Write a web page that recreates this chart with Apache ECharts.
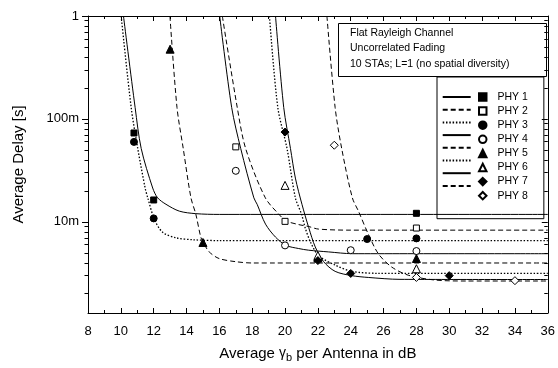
<!DOCTYPE html>
<html>
<head>
<meta charset="utf-8">
<script src="https://cdn.jsdelivr.net/npm/echarts@6/dist/echarts.min.js"></script>
<style>
    html, body { margin: 0; padding: 0; background: #fff; }
    #main { width: 558px; height: 368px; }
</style>
</head>
<body>
<div id="main"></div>
<script>
// fitted curves: [gamma_b in dB, delay in s]
var phy1Curve = [[10.16, 1], [10.87, 0.129], [11.24, 0.0516], [11.94, 0.0213], [12.24, 0.0171], [12.75, 0.0148], [13.56, 0.0127], [14.57, 0.0120], [16, 0.0118], [36, 0.0118]];
var phy2Curve = [[16.18, 1], [17.09, 0.129], [17.6, 0.0516], [18.8, 0.0171], [19.72, 0.0114], [20.06, 0.0102], [20.83, 0.0094], [21.44, 0.0090], [22.03, 0.0085], [24, 0.0083], [36, 0.0083]];
var phy3Curve = [[10.02, 1], [10.63, 0.129], [11.03, 0.0516], [11.48, 0.0213], [11.64, 0.0171], [12.04, 0.0106], [12.55, 0.0079], [13.36, 0.0070], [14.36, 0.0067], [16, 0.00657], [36, 0.00657]];
var phy4Curve = [[16.02, 1], [16.75, 0.129], [17.3, 0.0516], [18.1, 0.0171], [18.3, 0.0148], [18.81, 0.0095], [19.42, 0.0071], [20.06, 0.0059], [20.83, 0.0055], [21.44, 0.0053], [22.65, 0.0051], [24.1, 0.0049], [36, 0.0049]];
var phy5Curve = [[12.99, 1], [13.42, 0.129], [13.8, 0.0516], [14.27, 0.0171], [14.57, 0.0118], [14.87, 0.0071], [15.07, 0.0061], [15.38, 0.0051], [15.98, 0.0044], [16.99, 0.0041], [18, 0.00398], [36, 0.00398]];
var phy6Curve = [[19.05, 1], [19.56, 0.129], [20.12, 0.0516], [20.63, 0.0171], [21.01, 0.0118], [21.22, 0.0088], [21.56, 0.0063], [22.04, 0.0047], [23.05, 0.0038], [24.06, 0.0033], [25.68, 0.00316], [36, 0.00315]];
var phy7Curve = [[19.42, 1], [19.92, 0.129], [20.33, 0.0516], [20.63, 0.0266], [21.03, 0.0148], [21.44, 0.0088], [21.84, 0.0057], [22.35, 0.0041], [23.05, 0.0033], [24.06, 0.0030], [25.07, 0.00288], [27, 0.00276], [36, 0.00275]];
var phy8Curve = [[22.55, 1], [23.05, 0.129], [23.45, 0.0516], [24.1, 0.0171], [24.47, 0.0127], [25.07, 0.0076], [25.68, 0.0049], [26.48, 0.00365], [27.5, 0.00303], [29.12, 0.00272], [31, 0.00266], [36, 0.00266]];

// simulated points
var phy1Pts = [[10.8, 0.073], [12, 0.0163], [28, 0.0121]];
var phy2Pts = [[17, 0.0535], [20, 0.0101], [28, 0.0087]];
var phy3Pts = [[10.8, 0.0598], [12, 0.0108], [25, 0.0068], [28, 0.0069]];
var phy4Pts = [[17, 0.0313], [20, 0.0059], [24, 0.0053], [28, 0.0052]];
var phy5Pts = [[13, 0.476], [15, 0.0063], [22, 0.00445], [28, 0.0044]];
var phy6Pts = [[20, 0.0226], [22, 0.0047], [28, 0.0035]];
var phy7Pts = [[20, 0.0745], [22, 0.0042], [24, 0.00315], [30, 0.0030]];
var phy8Pts = [[23, 0.0555], [28, 0.00288], [34, 0.00268]];

var phyNames = ['PHY 1', 'PHY 2', 'PHY 3', 'PHY 4', 'PHY 5', 'PHY 6', 'PHY 7', 'PHY 8'];
var xMin = 8, xMax = 36, xStep = 2;
var yMin = 0.0013, yMax = 1;
var yMajor = [0.01, 0.1, 1];
var yMajorLabels = ['10m', '100m', '1'];
var yMinor = [0.002, 0.003, 0.004, 0.005, 0.006, 0.007, 0.008, 0.009,
              0.02, 0.03, 0.04, 0.05, 0.06, 0.07, 0.08, 0.09,
              0.2, 0.3, 0.4, 0.5, 0.6, 0.7, 0.8, 0.9];
var noteLines = ['Flat Rayleigh Channel', 'Uncorrelated Fading', '10 STAs; L=1 (no spatial diversity)'];

var curves = [phy1Curve, phy2Curve, phy3Curve, phy4Curve, phy5Curve, phy6Curve, phy7Curve, phy8Curve];
var points = [phy1Pts, phy2Pts, phy3Pts, phy4Pts, phy5Pts, phy6Pts, phy7Pts, phy8Pts];
var dashes = ['solid', [5, 3], [1.5, 1.8], 'solid', [5, 3], [1.5, 1.8], 'solid', [5, 3]];
var symbols = ['rect', 'rect', 'circle', 'circle', 'triangle', 'triangle', 'diamond', 'diamond'];
var symSizes = [6, 6, 7, 7, 8, 8, 8, 8];

var font = 'Liberation Sans';
var lg = function (v) { return Math.log10(v); };

var myChart = echarts.init(document.getElementById('main'));

var series = [];
var curveNames = [];
for (var i = 0; i < 8; i++) {
    var dotted = i === 2 || i === 5;
    curveNames.push(phyNames[i] + ' fit');
    series.push({
        name: phyNames[i] + ' fit',
        type: 'line',
        xAxisIndex: 0,
        yAxisIndex: 0,
        data: curves[i],
        symbol: 'none',
        smooth: 0.3,
        silent: true,
        color: '#000',
        z: 2,
        lineStyle: { color: '#000', width: dotted ? 1.3 : 1, type: dashes[i] }
    });
}
for (var j = 0; j < 8; j++) {
    var filled = j % 2 === 0;
    series.push({
        name: phyNames[j],
        type: 'scatter',
        xAxisIndex: 0,
        yAxisIndex: 0,
        data: points[j],
        symbol: symbols[j],
        symbolSize: symSizes[j],
        silent: true,
        z: 3,
        itemStyle: { color: filled ? '#000' : '#fff', borderColor: '#000', borderWidth: 1, opacity: 1 }
    });
}

var black = { color: '#000', width: 1 };

function yTickAxis(pos, vals, len, inside, withLine, withLabels) {
    return {
        type: 'value',
        position: pos,
        min: lg(yMin),
        max: lg(yMax),
        axisLine: { show: withLine, onZero: false, lineStyle: black },
        axisTick: { show: true, inside: inside, length: len, customValues: vals.map(lg), lineStyle: black },
        axisLabel: withLabels ? {
            show: true,
            customValues: yMajor.map(lg),
            fontSize: 13,
            color: '#000',
            fontFamily: font,
            margin: 9,
            formatter: function (v) {
                for (var k = 0; k < yMajor.length; k++) {
                    if (Math.abs(lg(yMajor[k]) - v) < 1e-6) return yMajorLabels[k];
                }
                return '';
            }
        } : { show: false },
        splitLine: { show: false }
    };
}

var option = {
    animation: false,
    backgroundColor: '#fff',
    textStyle: { fontFamily: font, color: '#000' },
    grid: { left: 88, right: 7, top: 16, bottom: 51 },
    title: {
        text: noteLines.join('\n'),
        left: 338,
        top: 23,
        padding: [2, 37, 5, 12],
        borderColor: '#000',
        borderWidth: 1,
        textStyle: { fontSize: 10.5, fontWeight: 'normal', color: '#000', fontFamily: font, lineHeight: 15.5 }
    },
    legend: [
        {
            data: curveNames,
            orient: 'vertical',
            left: 441.7,
            top: 90,
            padding: 0,
            itemWidth: 28,
            itemHeight: 14,
            itemGap: 0.1,
            selectedMode: false,
            itemStyle: { opacity: 0, borderWidth: 0 },
            formatter: function () { return ''; },
            textStyle: { fontSize: 10.5 }
        },
        {
            data: phyNames,
            orient: 'vertical',
            left: 437,
            top: 77,
            padding: [13, 16, 16, 41],
            borderColor: '#000',
            borderWidth: 1,
            itemWidth: 7.5,
            itemHeight: 7.5,
            itemGap: 0.1,
            selectedMode: false,
            textStyle: { fontSize: 10.5, color: '#000', fontFamily: font, lineHeight: 14, padding: [0, 0, 0, 6] }
        }
    ],
    xAxis: [
        {
            type: 'value',
            position: 'bottom',
            min: xMin,
            max: xMax,
            interval: xStep,
            name: 'Average {g|γ}{b|b} per Antenna in dB',
            nameLocation: 'middle',
            nameGap: 31,
            nameTextStyle: {
                fontSize: 15,
                color: '#000',
                fontFamily: font,
                rich: {
                    g: { fontSize: 14, fontFamily: font, color: '#000' },
                    b: { fontSize: 11, fontFamily: font, color: '#000', padding: [8, 0, 0, 0] }
                }
            },
            axisLine: { onZero: false, lineStyle: black },
            axisTick: { inside: true, length: 5, lineStyle: black },
            minorTick: { show: true, splitNumber: 2, length: 3, lineStyle: black },
            axisLabel: { fontSize: 13, color: '#000', fontFamily: font, margin: 12 },
            splitLine: { show: false }
        },
        {
            type: 'value',
            position: 'top',
            min: xMin,
            max: xMax,
            interval: xStep,
            axisLine: { onZero: false, lineStyle: black },
            axisTick: { inside: true, length: 5, lineStyle: black },
            minorTick: { show: true, splitNumber: 2, length: 3, lineStyle: black },
            axisLabel: { show: false },
            splitLine: { show: false }
        }
    ],
    yAxis: [
        {
            type: 'log',
            logBase: 10,
            min: yMin,
            max: yMax,
            show: false,
            splitLine: { show: false }
        },
        Object.assign(yTickAxis('left', yMajor, 6, false, true, true), {
            name: 'Average Delay [s]',
            nameLocation: 'middle',
            nameGap: 62,
            nameTextStyle: { fontSize: 15, color: '#000', fontFamily: font }
        }),
        yTickAxis('left', yMinor, 3.5, false, false, false),
        yTickAxis('right', yMajor, 6, true, true, false),
        yTickAxis('right', yMinor, 3.5, true, false, false)
    ],
    series: series
};

myChart.setOption(option);
</script>
</body>
</html>
